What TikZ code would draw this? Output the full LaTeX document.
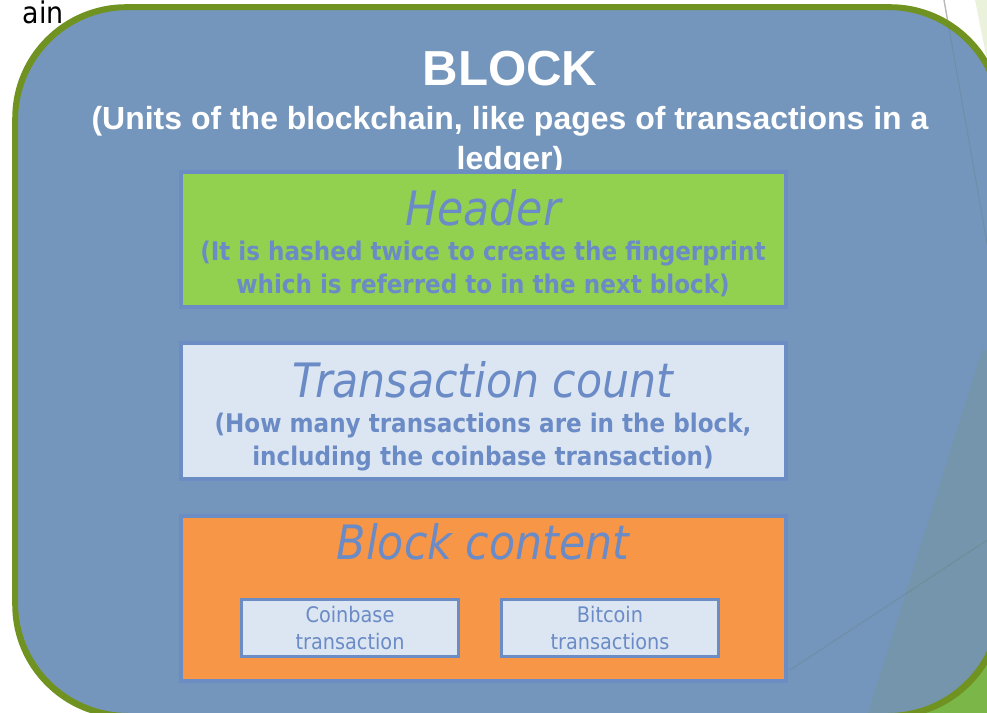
\documentclass[tikz,border=0pt]{standalone}
\usepackage{fontspec}
\usepackage{tikz}
\usetikzlibrary{positioning}

\newfontfamily\slidefont{DejaVu Sans Condensed}
\newfontfamily\titlefont{Liberation Sans}

\definecolor{blockblue}{HTML}{7596BC}
\definecolor{blockrim}{HTML}{6F9220}
\definecolor{headgreen}{HTML}{92D050}
\definecolor{partlight}{HTML}{DCE6F2}
\definecolor{contentorange}{HTML}{F79646}
\definecolor{partline}{HTML}{6B8DC4}
\definecolor{parttext}{HTML}{6B8BC6}
\definecolor{themegreen}{HTML}{7AB648}
\definecolor{themepale}{HTML}{EAF2DC}

\tikzset{
    part/.style={draw=partline, line width=1.8pt, minimum width=12.1cm, inner sep=0pt},
    parttitle/.style={text=parttext, font=\slidefont\itshape\fontsize{27}{30}\selectfont, inner sep=0pt},
    partnote/.style={text=parttext, align=center, font=\slidefont\bfseries\fontsize{14.6}{18.7}\selectfont, inner sep=0pt},
    txbox/.style={draw=partline, line width=1.6pt, fill=partlight, minimum width=4.35cm, minimum height=1.15cm,
        inner sep=0pt, align=center, text=parttext, font=\slidefont\fontsize{12.2}{15}\selectfont}
}

\begin{document}
\begin{tikzpicture}[x=0.02cm, y=-0.02cm]
    \useasboundingbox (0,0) rectangle (987,713);
    % slide theme behind the block
    \fill[themepale] (975,0) -- (987,0) -- (987,60) -- cycle;
    \fill[themegreen] (860,713) -- (987,713) -- (987,540) -- cycle;
    \draw[gray!55, line width=0.8pt] (944,0) -- (990,260);
    \node[anchor=base east, inner sep=0pt, font=\slidefont\fontsize{17}{20}\selectfont] (slidetitle) at (64,24) {ain};

    % the block
    \node[draw=blockrim, fill=blockblue, line width=2.2pt, rounded corners=2.24cm,
        minimum width=19.68cm, minimum height=14.14cm] (block) at (508,361.5) {};
    \begin{scope}
        \clip[rounded corners=2.24cm] (block.south west) rectangle (block.north east);
        \fill[blockrim, opacity=0.1] (982,350) -- (868,713) -- (995,713) -- (995,350) -- cycle;
        \draw[blockrim!60!black, opacity=0.12, line width=0.6pt] (944,0) -- (990,260);
        \draw[blockrim!60!black, opacity=0.12, line width=0.6pt] (790,670) -- (995,535);
    \end{scope}
    \draw[blockrim, line width=2.2pt, rounded corners=2.24cm] (block.south west) rectangle (block.north east);

    \node[text=white, font=\titlefont\bfseries\fontsize{28}{32}\selectfont, inner sep=0pt] (blocktitle) at (510,69) {BLOCK};
    \node[text=white, align=center, font=\titlefont\bfseries\fontsize{18.2}{22.7}\selectfont, inner sep=0pt] (blocknote) at (510,141)
        {(Units of the blockchain, like pages of transactions in a\\ledger)};

    % header
    \node[part, fill=headgreen, minimum height=2.7cm] (header) at (483.5,239.5) {};
    \node[parttitle] (headertitle) at (483,208) {Header};
    \node[partnote] (headernote) at (483,269) {(It is hashed twice to create the fingerprint\\which is referred to in the next block)};

    % transaction count
    \node[part, fill=partlight, minimum height=2.72cm] (count) at (483.5,411) {};
    \node[parttitle] (counttitle) at (483,380) {Transaction count};
    \node[partnote] (countnote) at (483,442) {(How many transactions are in the block,\\including the coinbase transaction)};

    % block content
    \node[part, fill=contentorange, minimum height=3.3cm] (content) at (483.5,598.5) {};
    \node[parttitle] (contenttitle) at (483,542) {Block content};
    \node[txbox] (coinbase) at (350,628) {Coinbase\\transaction};
    \node[txbox] (bitcoin) at (610,628) {Bitcoin\\transactions};
\end{tikzpicture}
\end{document}
